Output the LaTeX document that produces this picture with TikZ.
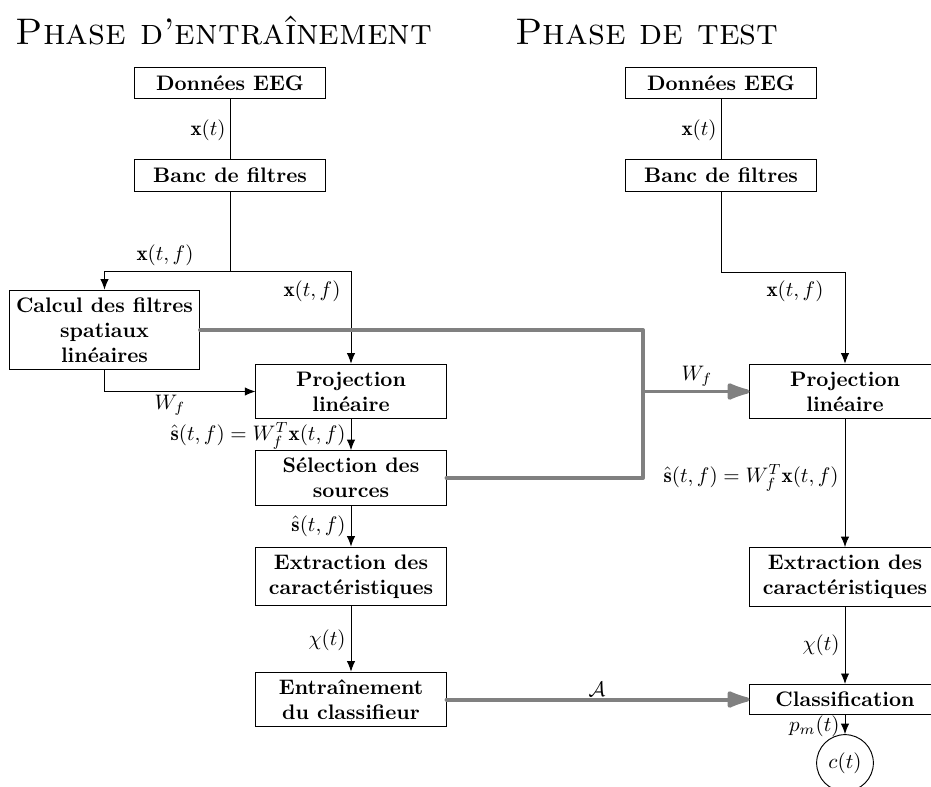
\documentclass[tikz,border=0pt]{standalone}
\usepackage{fontspec}
\usetikzlibrary{arrows.meta}
\tikzset{
  box/.style={draw, line width=0.45pt, font=\bfseries, align=center, minimum width=90.5pt, inner sep=1pt},
  h1/.style={minimum height=14.8pt},
  h2/.style={minimum height=26pt},
  h3/.style={minimum height=38pt},
  thinline/.style={line width=0.45pt},
  arr/.style={thinline, -{Latex[length=5pt,width=4pt]}},
  gline/.style={line width=1.9pt, draw=gray, line join=round, line cap=round},
  garr/.style={gline, -{Latex[length=14pt,width=9pt,round]}},
  lab/.style={inner sep=0pt, font=\normalsize},
  ttl/.style={inner sep=0pt, font=\fontsize{17.6}{21}\selectfont\scshape, anchor=base},
}
\begin{document}
\begin{tikzpicture}[x=0.476pt, y=-0.476pt]
\useasboundingbox (0,0) rectangle (931,787);
% titles
\node[ttl] (t1title) at (224,45) {Phase d'entraînement};
\node[ttl] (t2title) at (647,45) {Phase de test};
% left column
\node[box,h1] (d1) at (230,83) {Données EEG};
\node[box,h1] (b1) at (230,175.5) {Banc de filtres};
\node[box,h3] (calc) at (104.5,330) {Calcul des filtres\\spatiaux\\linéaires};
\node[box,h2] (p1) at (351,391.5) {Projection\\linéaire};
\node[box,h2] (s1) at (351,478) {Sélection des\\sources};
\node[box,h2,minimum height=28pt] (e1) at (351,576.5) {Extraction des\\caractéristiques};
\node[box,h2] (tr) at (351,699.5) {Entraînement\\du classifieur};
% right column
\node[box,h1] (d2) at (721,83) {Données EEG};
\node[box,h1] (b2) at (721,175.5) {Banc de filtres};
\node[box,h2] (p2) at (845,391.5) {Projection\\linéaire};
\node[box,h2,minimum height=28pt] (e2) at (845,577) {Extraction des\\caractéristiques};
\node[box,minimum height=14.3pt] (cl) at (845,699.5) {Classification};
\node[draw, thinline, circle, minimum size=27pt, inner sep=0pt] (ct) at (845,763) {$c(t)$};
% junctions
\coordinate (j1) at (230,271);
\coordinate (j2) at (721,272);
\coordinate (g1) at (643,330);
\coordinate (g2) at (643,478);
% left connectors
\draw[thinline] (d1) -- (b1);
\draw[thinline] (b1.south) -- (j1);
\draw[arr] (j1) -| (calc.north);
\draw[arr] (j1) -| (p1.north);
\draw[arr] (calc.south) |- (p1.west);
\draw[arr] (p1) -- (s1);
\draw[arr] (s1) -- (e1);
\draw[arr] (e1) -- (tr);
% right connectors
\draw[thinline] (d2) -- (b2);
\draw[thinline] (b2.south) -- (j2);
\draw[arr] (j2) -| (p2.north);
\draw[arr] (p2) -- (e2);
\draw[arr] (e2) -- (cl);
\draw[arr] (cl.south -| ct.north) -- (ct.north);
% gray connectors
\draw[gline] (calc.east) -- (g1) -- (g2) -- (s1.east);
\draw[garr] (g1 |- p2.west) -- (p2.west);
\draw[garr] (tr.east) -- (cl.west);
% labels
\node[lab, anchor=east] (lx1) at (226,130) {$\mathbf{x}(t)$};
\node[lab] (lxf1) at (165,255) {$\mathbf{x}(t,f)$};
\node[lab] (lxf2) at (312,291) {$\mathbf{x}(t,f)$};
\node[lab] (lw1) at (170,405) {$W_f$};
\node[lab, anchor=east] (ls1) at (346,436) {$\hat{\mathbf{s}}(t,f)=W_f^T\mathbf{x}(t,f)$};
\node[lab, anchor=east] (ls2) at (346,526) {$\hat{\mathbf{s}}(t,f)$};
\node[lab, anchor=east] (lc1) at (346,640) {$\chi(t)$};
\node[lab] (lw2) at (697,376) {$W_f$};
\node[lab] (la) at (597,689) {$\mathcal{A}$};
\node[lab, anchor=east] (lx2) at (717,130) {$\mathbf{x}(t)$};
\node[lab] (lxf3) at (795,291) {$\mathbf{x}(t,f)$};
\node[lab, anchor=east] (ls3) at (839,478) {$\hat{\mathbf{s}}(t,f)=W_f^T\mathbf{x}(t,f)$};
\node[lab, anchor=east] (lc2) at (840,645) {$\chi(t)$};
\node[lab, anchor=east] (lp) at (840,726) {$p_m(t)$};
\end{tikzpicture}
\end{document}
